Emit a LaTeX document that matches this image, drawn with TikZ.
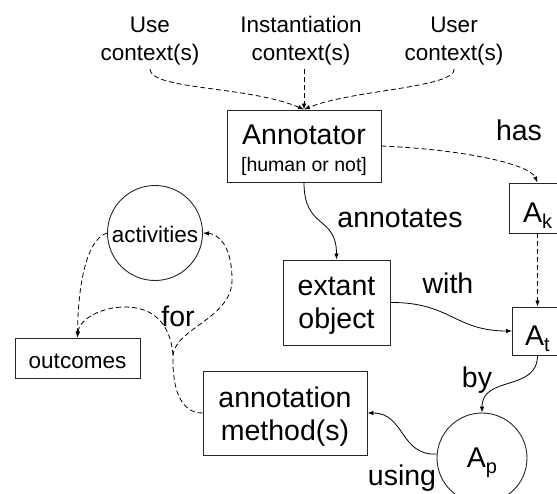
\documentclass[tikz,border=0pt]{standalone}
\usepackage{fontspec}
\setmainfont{Liberation Sans}
\usetikzlibrary{arrows.meta}
\newcommand\bigtxt{\fontsize{28.5}{33}\selectfont}
\newcommand\midtxt{\fontsize{22.5}{28}\selectfont}
\newcommand\humtxt{\fontsize{19.5}{22}\selectfont}
\newcommand\mysub[1]{\raisebox{-6pt}{\fontsize{20}{20}\selectfont #1}}
\begin{document}
\begin{tikzpicture}[x=1pt,y=-1pt,
  box/.style={draw=black!85, line width=0.9pt, fill=white, inner sep=0pt, align=center, font=\bigtxt},
  roundbox/.style={circle, draw=black!85, line width=0.9pt, fill=white, inner sep=0pt, align=center},
  ctx/.style={inner sep=0pt, align=center, font=\midtxt},
  lbl/.style={inner sep=0pt, anchor=base, font=\bigtxt},
  tip/.style={-{Latex[length=6pt,width=4.5pt]}},
  dl/.style={tip, dash pattern=on 5pt off 3pt, line width=0.8pt},
  sl/.style={tip, line width=0.8pt}]
\useasboundingbox (0,0) rectangle (557,493);

% context labels
\node[ctx, anchor=north] (use)  at (150,12) {\rule{0pt}{20pt}Use\\context(s)};
\node[ctx, anchor=north] (inst) at (301,12) {\rule{0pt}{20pt}Instantiation\\context(s)};
\node[ctx, anchor=north] (user) at (454,12) {\rule{0pt}{20pt}User\\context(s)};

% boxes
\node[box, minimum width=154pt, minimum height=72pt] (ann) at (304,146)
  {\rule{0pt}{29pt}Annotator\\[-6pt]{\humtxt [human or not]}};
\node[box, minimum width=56pt, minimum height=50pt, text height=34pt, text depth=6pt] (Ak) at (537.5,208) {A\mysub{k}};
\node[box, minimum width=50pt, minimum height=48pt, text height=34pt, text depth=6pt] (At) at (537.5,331) {A\mysub{t}};
\node[box, minimum width=107pt, minimum height=85pt] (ext) at (336.5,302.5) {\rule{0pt}{24pt}extant\\object};
\node[box, minimum width=164pt, minimum height=84pt] (meth) at (285,413) {\rule{0pt}{27pt}annotation\\method(s)};
\node[roundbox, minimum size=90pt, font=\bigtxt, text height=24pt, text depth=6pt] (Ap) at (482,458) {A\mysub{p}};
\node[roundbox, minimum size=95pt, font=\midtxt, text height=18pt, text depth=0pt] (act) at (155,233) {activities};
\node[box, font=\midtxt, minimum width=125pt, minimum height=40pt, text height=20pt, text depth=0pt] (out) at (77.5,358) {outcomes};

% labels
\node[lbl] (lhas)  at (519,140) {has};
\node[lbl] (lann)  at (400,227) {annotates};
\node[lbl] (lwith) at (448,293) {with};
\node[lbl] (lby)   at (477,387) {by};
\node[lbl] (lusing) at (402,485) {using};
\node[lbl] (lfor)  at (178,326) {for};

% context connectors
\draw[dl, shorten <=4pt] (use.south) .. controls (150,90) and (250,86) .. (ann.north);
\draw[dl, shorten <=4pt] (inst.south -| ann.north) -- (ann.north);
\draw[dl, shorten <=4pt] (user.south) .. controls (455,88) and (350,90) .. (ann.north);

% right part
\draw[dl] (ann.east) .. controls (470,150) and (530,165) .. (Ak.north);
\draw[dl] (Ak.south) -- (At.north);
\draw[sl] (ann.south) .. controls (304,230) and (336.5,215) .. (ext.north);
\draw[sl] (ext.east) .. controls (450,302) and (455,331) .. (At.west);
\draw[sl] (At.south) .. controls (537.5,392) and (482,375) .. (Ap.north);
\draw[sl] (Ap.175) .. controls (400,456) and (405,413) .. (meth.east);

% left part
\coordinate (j) at (173,355);
\draw[dl] (meth.west) .. controls (182,413) and (172,392) .. (j)
  .. controls (176,328) and (232,318) .. (232,280)
  .. controls (232,245) and (218,234) .. (act.east);
\draw[dl] (j) .. controls (170,320) and (150,307) .. (125,307)
  .. controls (100,307) and (79,320) .. (out.north);
\draw[dl] (act.west) .. controls (85,240) and (78,290) .. (out.north);
\end{tikzpicture}
\end{document}
